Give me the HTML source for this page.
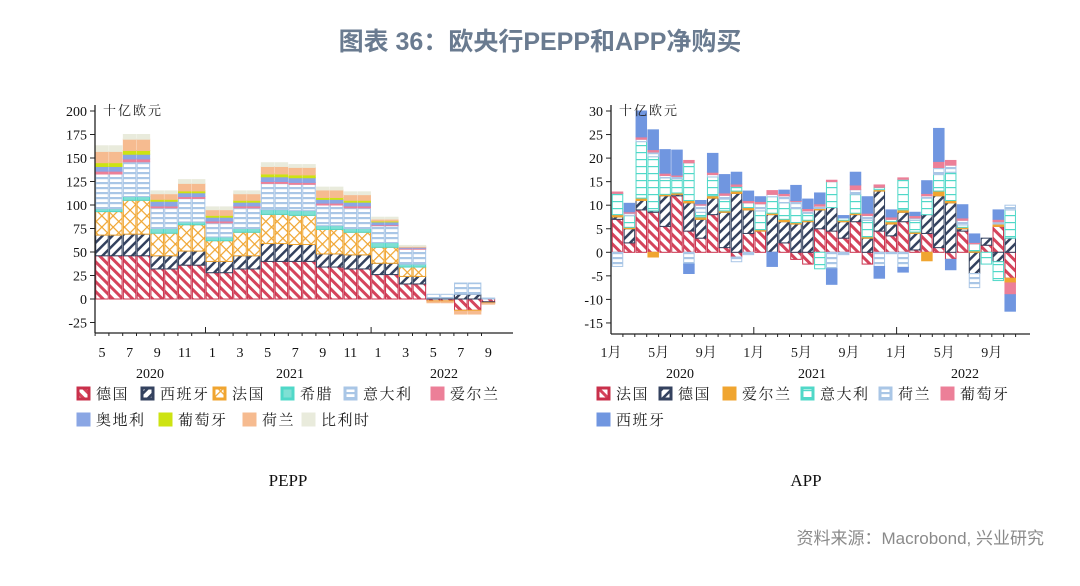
<!DOCTYPE html>
<html><head><meta charset="utf-8">
<style>
html,body{margin:0;padding:0;background:#fff;width:1080px;height:586px;overflow:hidden}
svg{display:block}
.t{font-family:"Liberation Serif","Noto Serif CJK SC",serif;font-size:14px;fill:#111}
.cj{font-family:"Liberation Serif","Noto Serif CJK SC",serif;font-size:14px;fill:#222}
.lg{font-family:"Liberation Serif","Noto Serif CJK SC",serif;font-size:15px;fill:#222;letter-spacing:1.5px}
.un{font-family:"Liberation Serif","Noto Serif CJK SC",serif;font-size:13px;fill:#222;letter-spacing:2px}
</style></head>
<body>
<svg id="svg" width="1080" height="586" xmlns="http://www.w3.org/2000/svg">
<defs>
<pattern id="pRed" width="7" height="7" patternUnits="userSpaceOnUse" patternTransform="rotate(-45)"><rect width="7" height="7" fill="#fff"/><rect width="3" height="7" fill="#d5445c"/></pattern>
<pattern id="pNavy" width="7" height="7" patternUnits="userSpaceOnUse" patternTransform="rotate(45)"><rect width="7" height="7" fill="#fff"/><rect width="2.5" height="7" fill="#34425f"/></pattern>
<pattern id="pOrg" width="8" height="8" patternUnits="userSpaceOnUse" patternTransform="rotate(45)"><rect width="8" height="8" fill="#fff"/><rect width="1.2" height="8" fill="#f0a530"/><rect width="8" height="1.2" fill="#f0a530"/></pattern>
<pattern id="pTeal" width="8" height="7" patternUnits="userSpaceOnUse"><rect width="8" height="7" fill="#fff"/><rect y="5" width="8" height="1.2" fill="#50d8c8"/></pattern>
<pattern id="pBlue" width="8" height="5" patternUnits="userSpaceOnUse"><rect width="8" height="5" fill="#fff"/><rect y="2" width="8" height="2.2" fill="#a9c6e6"/></pattern>
</defs>
<text x="540" y="50" text-anchor="middle" style="font-family:'Liberation Sans','Noto Sans CJK SC',sans-serif;font-size:25px;font-weight:bold;fill:#6a7b90">图表 36：欧央行PEPP和APP净购买</text>
<g id="left"></g>
<g id="right"></g>
<text x="288" y="486" text-anchor="middle" class="t" style="font-size:17px">PEPP</text>
<text x="806" y="486" text-anchor="middle" class="t" style="font-size:17px">APP</text>
<text x="1044" y="544" text-anchor="end" style="font-family:'Liberation Sans','Noto Sans CJK SC',sans-serif;font-size:17px;fill:#8a8a8a">资料来源：Macrobond, 兴业研究</text>
</svg>
<script>
// ---- PEPP data (May 2020 .. Sep 2022), EUR bn ----
const pMonths = ['5','6','7','8','9','10','11','12','1','2','3','4','5','6','7','8','9','10','11','12','1','2','3','4','5','6','7','8','9'];
const pDE = [46,46,46,46,32,32,36,36,28,28,32,32,40,40,40,40,34,34,32,32,26,26,16,16,-2,-2,-12,-12,-3];
const pES = [22,22,23,23,14,14,15,15,12,12,14,14,19,19,18,18,14,14,15,15,12,12,8,8,1,1,5,5,-1];
const pFR = [25,25,36,36,24,24,28,28,22,22,25,25,31,31,31,31,26,26,24,24,17,17,10,10,-1,-1,-1,-1,-0.5];
const pGR = [3,3,4,4,5,5,3,3,4,4,4,4,5,5,5,5,4,4,4,4,5,5,3,3,0,0,0,0,0];
const pIT = [37,37,37,37,22,22,25,25,15,15,22,22,28,28,28,28,22,22,22,22,18,18,16,16,4,4,12,12,1];
const pIE = [3,3,3,3,2,2,2,2,2,2,2,2,2,2,2,2,2,2,2,2,1,1,1,1,0,0,0,0,0];
const pAT = [5,5,5,5,5,5,4,4,4,4,4,4,5,5,5,5,4,4,4,4,3,3,1,1,0,0,0,0,0];
const pPT = [4,4,4,4,2,2,2,2,2,2,2,2,3,3,3,3,2,2,2,2,1,1,0,0,0,0,0,0,0];
const pNL = [12,12,12,12,6,6,8,8,6,6,7,7,8,8,8,8,8,8,6,6,2,2,1,1,-1,-1,-3,-3,-1];
const pBE = [6,6,5,5,3,3,4,4,3,3,3,3,4,4,3,3,3,3,3,3,2,2,1,1,0,0,0,0,0];
const pTicks = [200,175,150,125,100,75,50,25,0,-25];
const pYears = ['2020','2021','2022'];

// ---- APP data (Jan 2020 .. Oct 2022), EUR bn ----
const aFR = [7,2,9,8.5,5.5,12,4.5,3,8,1,-1,4,4.5,0,2,-1.5,-2.5,5,4.5,3,6.5,-2.5,4.5,3.5,6.5,0.5,4,1,-1.5,4.5,0,1.5,5.5,-5.5];
const aDE = [0.5,3,2,0.3,6.5,0.3,6,4,3.5,7.5,12.5,5,0,8,4.5,6,6.5,4,5,3.5,1.5,3,8.5,2.5,2,3.5,4,11,10.5,0.5,-4.5,1.5,-2,3];
const aIE = [0.5,0.3,0.5,-1,0.3,0.3,0.5,0.5,0.5,0.3,0.5,0.5,0.3,0.3,0.5,0.3,0.3,0.3,0,0.3,0.3,0.3,0.3,0.5,0.5,0.3,-1.8,1,0.5,0.3,0.3,0,0.5,-1];
const aIT = [4.5,2.5,12,11.5,3.5,3,8,1,4,2.5,1,1,4,3.5,3.5,3,1.5,-3.5,5.5,0.5,4,3.5,0.5,0.5,6.5,2.5,3.5,3.5,6,0.5,1.5,-2.5,-4,6];
const aNL = [-3,0.5,0.5,1,0.5,0.5,-2.5,1.5,0.5,0.8,-1,-0.5,1.5,0.5,1.5,1.5,0.5,0.5,-3.5,-0.5,1,1,-3,-0.3,-3.2,0.5,0.5,1.5,1.5,1,-3,0,0.5,1];
const aPT = [0.3,0.3,0.5,0.5,0.5,0.3,0.5,0.3,0.5,0.5,0.5,0.5,0.5,0.8,0.5,0.2,0.5,0.5,0.3,0,1,0.5,0.5,0.5,0.3,0.5,0.5,1.3,1,0.5,0.3,0,0.5,-2.5];
const aES = [0,1.8,5.5,4.2,5,5.3,-2,0.7,4,3.9,2.5,2,1,-3,0.7,3.2,2,2.3,-3.3,0.5,2.7,3.5,-2.5,1.5,-1,0.7,2.7,7,-2.2,2.8,1.8,0,2,-3.5];
const aTicks = [30,25,20,15,10,5,0,-5,-10,-15];
const aMonthLbl = ['1月','5月','9月'];
const aYears = ['2020','2021','2022'];

const NS='http://www.w3.org/2000/svg';
function mk(tag,attrs,parent){const e=document.createElementNS(NS,tag);for(const k in attrs)e.setAttribute(k,attrs[k]);parent.appendChild(e);return e;}

const pSeries=[
 {n:'德国',d:pDE,f:'url(#pRed)',s:'#c9304b'},{n:'西班牙',d:pES,f:'url(#pNavy)',s:'#34425f'},
 {n:'法国',d:pFR,f:'url(#pOrg)',s:'#f0a530'},{n:'希腊',d:pGR,f:'#7fe0d4',s:'#50d8c8'},
 {n:'意大利',d:pIT,f:'url(#pBlue)',s:'#a9c6e6'},{n:'爱尔兰',d:pIE,f:'#ec7f98',s:'#ec7f98'},
 {n:'奥地利',d:pAT,f:'#8aa6e4',s:'#8aa6e4'},{n:'葡萄牙',d:pPT,f:'#cde312',s:'#cde312'},
 {n:'荷兰',d:pNL,f:'#f6bb90',s:'#f6bb90'},{n:'比利时',d:pBE,f:'#e9ebdc',s:'#e9ebdc'}];
const aSeries=[
 {n:'法国',d:aFR,f:'url(#pRed)',s:'#c9304b'},{n:'德国',d:aDE,f:'url(#pNavy)',s:'#34425f'},
 {n:'爱尔兰',d:aIE,f:'#f0a530',s:'#f0a530'},{n:'意大利',d:aIT,f:'url(#pTeal)',s:'#50d8c8'},
 {n:'荷兰',d:aNL,f:'url(#pBlue)',s:'#a9c6e6'},{n:'葡萄牙',d:aPT,f:'#ec7f98',s:'#ec7f98'},
 {n:'西班牙',d:aES,f:'#7096e0',s:'#7096e0'}];

function drawChart(g,cfg){
  const {series,x0,x1,y,xc,bw,n,ticks,axisY}=cfg;
  for(let i=0;i<n;i++){
    let pos=0,neg=0;
    series.forEach((s,k)=>{
      const v=s.d[i]; if(!v) return;
      let a,b; if(v>0){a=pos;b=pos+v;pos=b;}else{a=neg;b=neg+v;neg=b;}
      const r=mk('rect',{x:xc(i)-bw/2,y:Math.min(y(a),y(b)),width:bw,height:Math.abs(y(a)-y(b)),fill:s.f,stroke:s.s,'stroke-width':1},g);
      
      
    });
  }
  const ya=mk('line',{x1:x0,x2:x0,y1:y(ticks[0])-6,y2:axisY,stroke:'#222','stroke-width':1.3},g);
  
  
  ticks.forEach(t=>{
    mk('line',{x1:x0-5,x2:x0,y1:y(t),y2:y(t),stroke:'#222'},g);
    const tx=mk('text',{x:x0-8,y:y(t)+5,'text-anchor':'end',class:'t'},g);
    tx.textContent=t;
    
    
  });
  const xa=mk('line',{x1:x0,x2:x1,y1:axisY,y2:axisY,stroke:'#222','stroke-width':1.3},g);
  
  
  const u=mk('text',{x:x0+8,y:y(ticks[0])+4,class:'un'},g);
  u.textContent='十亿欧元';
  
  
}

const pL=document.getElementById('left');
const pY=v=>299-v*0.94;
const pX=i=>102+i*13.8;
drawChart(pL,{series:pSeries,x0:95,x1:513,y:pY,xc:pX,bw:12.5,n:pMonths.length,ticks:pTicks,axisY:333});
pMonths.forEach((m,i)=>{
  mk('line',{x1:pX(i)-6.9,x2:pX(i)-6.9,y1:333,y2:(m==='1'?327:336),stroke:'#222'},pL);
  if(i%2===0){const t=mk('text',{x:pX(i),y:357,'text-anchor':'middle',class:'t'},pL);t.textContent=m;
    
    }
});
[150,290,444].forEach((x,k)=>{const t=mk('text',{x:x,y:378,'text-anchor':'middle',class:'t'},pL);t.textContent=pYears[k];
  
  });

const aL=document.getElementById('right');
const aY=v=>252.3-v*4.71;
const aX=i=>617.5+i*11.9;
drawChart(aL,{series:aSeries,x0:611,x1:1030,y:aY,xc:aX,bw:10.5,n:aFR.length,ticks:aTicks,axisY:334});
for(let i=0;i<=aFR.length;i++){
  mk('line',{x1:611+i*11.9,x2:611+i*11.9,y1:334,y2:(i%12===0?327:337),stroke:'#222'},aL);
  if(i%4===0 && i<aFR.length){const t=mk('text',{x:611+i*11.9,y:357,'text-anchor':'middle',class:'cj'},aL);t.textContent=aMonthLbl[(i/4)%3];
    
    }
}
[680,812,965].forEach((x,k)=>{const t=mk('text',{x:x,y:378,'text-anchor':'middle',class:'t'},aL);t.textContent=aYears[k];
  
  });

function legend(items,positions,parent){
  items.forEach((s,k)=>{
    const [x,y]=positions[k];
    const g=mk('g',{},parent);
    
    
    mk('rect',{x:x,y:y-10,width:11,height:11,fill:s.f,stroke:s.s,'stroke-width':3},g);
    const t=mk('text',{x:x+18,y:y+1,class:'lg'},g);t.textContent=s.n;
  });
}
legend(pSeries,[[78,398],[142,398],[214,398],[282,398],[345,398],[432,398],[78,424],[160,424],[244,424],[303,424]],pL);
legend(aSeries,[[598,398],[660,398],[724,398],[802,398],[880,398],[942,398],[598,424]],aL);
</script>
</body></html>
